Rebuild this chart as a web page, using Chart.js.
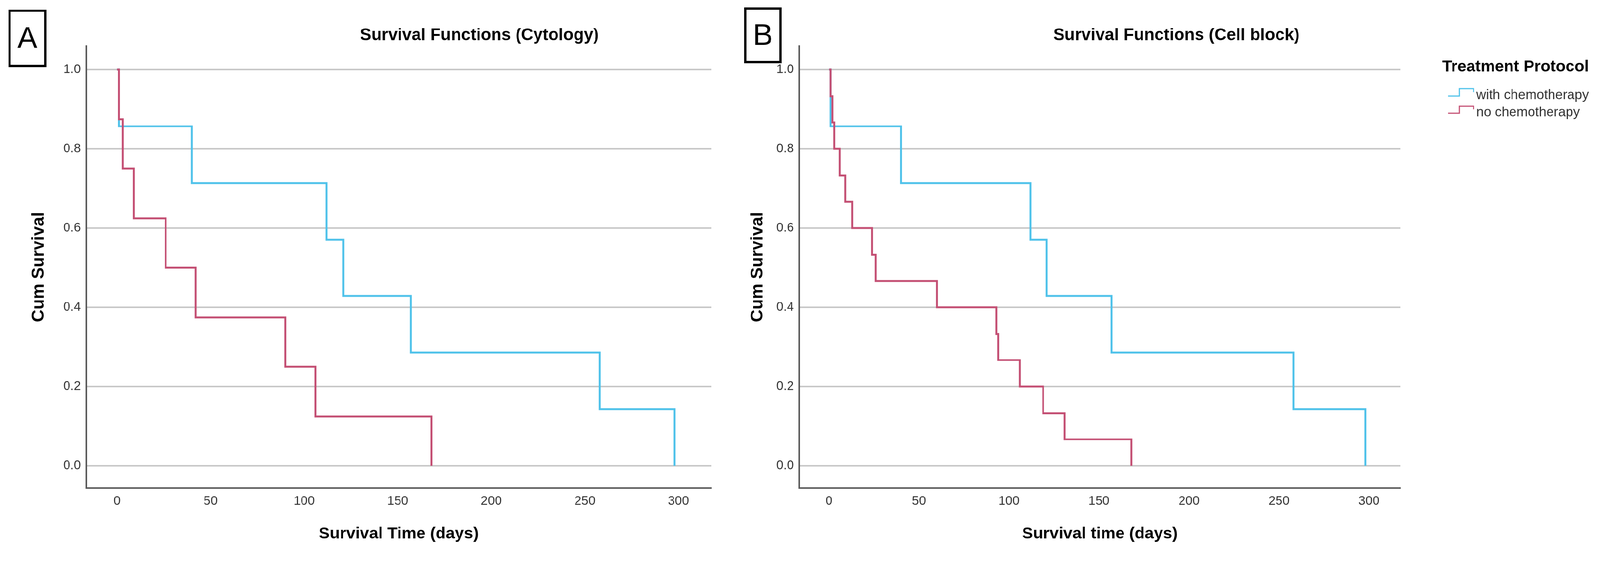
<!DOCTYPE html>
<html>
<head>
<meta charset="utf-8">
<title>Survival Functions</title>
<script src="https://cdn.jsdelivr.net/npm/chart.js@4.4.1/dist/chart.umd.min.js"></script>
<style>
  html, body { margin: 0; padding: 0; background: #fff; overflow: hidden; }
  #page { position: relative; width: 4178px; height: 1442px; overflow: hidden; transform-origin: 0 0; }
  .panel { position: absolute; top: 0; height: 1442px; }
  #panel-a { left: 0; width: 1900px; }
  #panel-b { left: 1900px; width: 2278px; }
</style>
</head>
<body>
<div id="page">
  <div class="panel" id="panel-a"><canvas id="chart-cytology"></canvas></div>
  <div class="panel" id="panel-b"><canvas id="chart-cellblock"></canvas></div>
</div>
<script>
// groups
var groupNames = ["with chemotherapy", "no chemotherapy"];
var groupColors = ["#4fc2ea", "#c45074"];
var legendTitle = "Treatment Protocol";

// axes
var xTicks = [0, 50, 100, 150, 200, 250, 300];
var yTicks = [0, 0.2, 0.4, 0.6, 0.8, 1.0];

// A - cytology (days / cumulative survival)
var cytoChemoDays   = [0, 1, 40, 112, 121, 157, 258, 298];
var cytoChemoSurv   = [1, 0.857, 0.714, 0.571, 0.429, 0.286, 0.143, 0];
var cytoNoChemoDays = [0, 1, 3, 9, 26, 42, 90, 106, 168];
var cytoNoChemoSurv = [1, 0.875, 0.75, 0.625, 0.5, 0.375, 0.25, 0.125, 0];

// B - cell block
var cellChemoDays   = [0, 1, 40, 112, 121, 157, 258, 298];
var cellChemoSurv   = [1, 0.857, 0.714, 0.571, 0.429, 0.286, 0.143, 0];
var cellNoChemoDays = [0, 1, 2, 3, 6, 9, 13, 24, 26, 60, 93, 94, 106, 119, 131, 168];
var cellNoChemoSurv = [1, 0.933, 0.867, 0.8, 0.733, 0.667, 0.6, 0.533, 0.467, 0.4, 0.333, 0.267, 0.2, 0.133, 0.067, 0];

var FONT = '"Liberation Sans", Arial, Helvetica, sans-serif';

// fit the fixed 4178x1442 layout into whatever viewport we get
(function() {
  var s = Math.min(window.innerWidth / 4178, window.innerHeight / 1442);
  if (s > 0 && s < 1) document.getElementById('page').style.transform = 'scale(' + s + ')';
})();

function toPoints(days, surv) {
  return days.map(function(d, i) { return { x: d, y: surv[i] }; });
}

function makeDataset(idx, days, surv) {
  return {
    label: groupNames[idx],
    data: toPoints(days, surv),
    borderColor: groupColors[idx],
    backgroundColor: groupColors[idx],
    borderWidth: 5,
    pointRadius: 0,
    stepped: true,
    fill: false,
    order: idx === 0 ? 1 : 0   // red drawn on top
  };
}

// letter box, title and (optional) legend
var panelDecor = {
  id: 'panelDecor',
  afterDraw: function(chart, args, o) {
    var ctx = chart.ctx;
    ctx.save();
    ctx.strokeStyle = '#000';
    ctx.lineWidth = 6;
    ctx.strokeRect(o.box[0], o.box[1], o.box[2], o.box[3]);
    ctx.fillStyle = '#000';
    ctx.textAlign = 'center';
    ctx.textBaseline = 'middle';
    ctx.font = '78px ' + FONT;
    ctx.fillText(o.letter, o.box[0] + o.box[2] / 2, o.box[1] + o.box[3] / 2 + 3);

    ctx.font = 'bold 44px ' + FONT;
    ctx.fillText(o.title, o.titleX, o.titleY);

    if (o.legend) {
      var L = o.legend;
      ctx.textAlign = 'left';
      ctx.font = 'bold 42px ' + FONT;
      ctx.fillText(legendTitle, L.x, L.y);
      ctx.font = '35px ' + FONT;
      chart.data.datasets.forEach(function(ds, i) {
        var iy = L.itemY + i * L.step;
        var ix = L.x + 15;
        ctx.strokeStyle = ds.borderColor;
        ctx.lineWidth = 3;
        ctx.beginPath();
        ctx.moveTo(ix, iy + 2);
        ctx.lineTo(ix + 30, iy + 2);
        ctx.lineTo(ix + 30, iy - 17);
        ctx.lineTo(ix + 67, iy - 17);
        ctx.lineTo(ix + 67, iy - 8);
        ctx.stroke();
        ctx.fillStyle = '#333';
        ctx.fillText(ds.label, ix + 74, iy);
      });
    }
    ctx.restore();
  }
};

function makeConfig(p) {
  return {
    type: 'line',
    data: { datasets: p.datasets },
    plugins: [panelDecor],
    options: {
      responsive: true,
      maintainAspectRatio: false,
      animation: false,
      events: [],
      layout: { padding: { left: 0, right: p.padRight, top: 120, bottom: 0 } },
      plugins: {
        legend: { display: false },
        tooltip: { enabled: false },
        panelDecor: p.decor
      },
      scales: {
        x: {
          type: 'linear',
          min: -16.5,
          max: 317.5,
          afterBuildTicks: function(s) { s.ticks = xTicks.map(function(v) { return { value: v }; }); },
          afterFit: function(s) { s.height = 167; },
          grid: { display: false, drawTicks: false },
          border: { display: true, color: '#5a5a5a', width: 4 },
          ticks: {
            padding: 15, color: '#333', autoSkip: false, maxRotation: 0,
            font: { family: FONT, size: 33 },
            callback: function(v) { return String(v); }
          },
          title: {
            display: true, text: p.xTitle, color: '#000',
            font: { family: FONT, size: 43, weight: 'bold' },
            padding: { top: 0, bottom: 21 }
          }
        },
        y: {
          type: 'linear',
          min: -0.056,
          max: 1.06,
          afterBuildTicks: function(s) { s.ticks = yTicks.map(function(v) { return { value: v }; }); },
          afterFit: function(s) { s.width = p.yWidth; },
          grid: { color: '#c8c8c8', lineWidth: 4, drawTicks: false },
          border: { display: true, color: '#5a5a5a', width: 4 },
          ticks: {
            padding: 14, color: '#333',
            font: { family: FONT, size: 33 },
            callback: function(v) { return v.toFixed(1); }
          },
          title: {
            display: true, text: 'Cum Survival', color: '#000',
            font: { family: FONT, size: 45, weight: 'bold' },
            padding: { top: p.yTitlePad, bottom: 0 }
          }
        }
      }
    }
  };
}

new Chart(document.getElementById('chart-cytology'), makeConfig({
  datasets: [
    makeDataset(0, cytoChemoDays, cytoChemoSurv),
    makeDataset(1, cytoNoChemoDays, cytoNoChemoSurv)
  ],
  padRight: 43,
  yWidth: 225,
  yTitlePad: 75,
  xTitle: 'Survival Time (days)',
  decor: { letter: 'A', box: [25, 28, 93, 144], title: 'Survival Functions (Cytology)', titleX: 1252, titleY: 93 }
}));

new Chart(document.getElementById('chart-cellblock'), makeConfig({
  datasets: [
    makeDataset(0, cellChemoDays, cellChemoSurv),
    makeDataset(1, cellNoChemoDays, cellNoChemoSurv)
  ],
  padRight: 521,
  yWidth: 187,
  yTitlePad: 52,
  xTitle: 'Survival time (days)',
  decor: {
    letter: 'B', box: [46, 22, 92, 140], title: 'Survival Functions (Cell block)', titleX: 1172, titleY: 93,
    legend: { x: 1866, y: 175, itemY: 249, step: 45 }
  }
}));
</script>
</body>
</html>
